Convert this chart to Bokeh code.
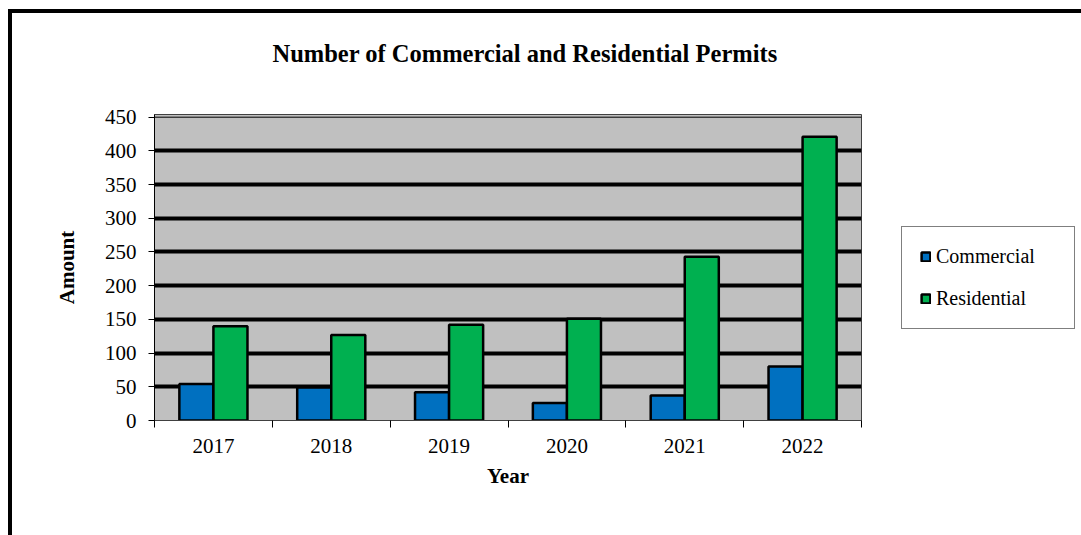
from bokeh.plotting import figure
from bokeh.models import FixedTicker, Span, Legend, LegendItem, ColumnDataSource, Title
from bokeh.transform import dodge
from bokeh.embed import file_html
from bokeh.resources import INLINE

years = ["2017", "2018", "2019", "2020", "2021", "2022"]
commercial = [54, 49, 42, 26, 37, 80]
residential = [140, 127, 142, 151, 243, 421]
y_ticks = [0, 50, 100, 150, 200, 250, 300, 350, 400, 450]

FONT = "Liberation Serif"
xs = [i + 0.5 for i in range(len(years))]
src = ColumnDataSource(dict(x=xs, year=years, commercial=commercial, residential=residential))

p = figure(frame_width=707, frame_height=306, x_range=(0, 6), y_range=(0, 454),
           output_backend="svg", toolbar_location=None,
           min_border_left=142, min_border_right=220, min_border_top=0, min_border_bottom=116,
           background_fill_color="#C0C0C0", border_fill_color="white")
p.styles = {"margin-left": "8px", "margin-top": "9px",
            "border-left": "4px solid black", "border-top": "4px solid black"}

p.title.text = "Number of Commercial and Residential Permits"
p.title.text_font = FONT
p.title.text_font_size = "24.5px"
p.title.text_font_style = "bold"
p.title.text_color = "black"
p.title.align = "left"
p.title.offset = 118
p.title.standoff = 48

# spacer between title and plot area
spacer = Title(text=" ", text_font_size="1px", standoff=21)
p.add_layout(spacer, "above")

p.outline_line_color = "#404040"
p.outline_line_width = 1

p.xgrid.visible = False
p.ygrid.ticker = FixedTicker(ticks=y_ticks[1:-1])
p.ygrid.grid_line_color = "black"
p.ygrid.grid_line_width = 4
p.add_layout(Span(location=450, dimension="width", line_color="black", line_width=1))

bw = 0.289
r1 = p.vbar(x=dodge("x", -bw / 2, range=p.x_range), top="commercial", width=bw, source=src,
            fill_color="#0070C0", line_color="black", line_width=2.5)
r2 = p.vbar(x=dodge("x", bw / 2, range=p.x_range), top="residential", width=bw, source=src,
            fill_color="#00B050", line_color="black", line_width=2.5)

xa = p.xaxis[0]
xa.ticker = FixedTicker(ticks=xs, minor_ticks=list(range(len(years) + 1)))
xa.major_label_overrides = {x: y for x, y in zip(xs, years)}
xa.major_tick_out = 0
xa.major_tick_in = 0
xa.minor_tick_out = 7
xa.minor_tick_in = 0
xa.minor_tick_line_color = "black"
xa.axis_line_color = "#404040"
xa.major_label_standoff = 11
xa.axis_label = "Year"
xa.axis_label_standoff = 8

ya = p.yaxis[0]
ya.ticker = FixedTicker(ticks=y_ticks)
ya.major_tick_out = 6
ya.major_tick_in = 0
ya.minor_tick_out = 0
ya.minor_tick_in = 0
ya.axis_line_color = "black"
ya.major_tick_line_color = "black"
ya.major_label_standoff = 12
ya.axis_label = "Amount"
ya.axis_label_standoff = 23

for ax in (xa, ya):
    ax.major_label_text_font = FONT
    ax.major_label_text_font_size = "21px"
    ax.major_label_text_color = "black"
    ax.axis_label_text_font = FONT
    ax.axis_label_text_font_size = "21px"
    ax.axis_label_text_font_style = "bold"
    ax.axis_label_text_color = "black"

legend = Legend(items=[LegendItem(label="Commercial", renderers=[r1]),
                       LegendItem(label="Residential", renderers=[r2])],
                location=(40, 91), orientation="vertical")
legend.label_text_font = FONT
legend.label_text_font_size = "20px"
legend.label_text_color = "black"
legend.glyph_width = 11
legend.glyph_height = 11
legend.label_height = 20
legend.label_standoff = 5
legend.padding = 18
legend.spacing = 19
legend.label_width = 120
legend.border_line_color = "black"
legend.border_line_width = 1
legend.background_fill_color = "white"
legend.background_fill_alpha = 1
legend.margin = 0
p.add_layout(legend, "right")

open("out.html", "w").write(file_html(p, INLINE))
